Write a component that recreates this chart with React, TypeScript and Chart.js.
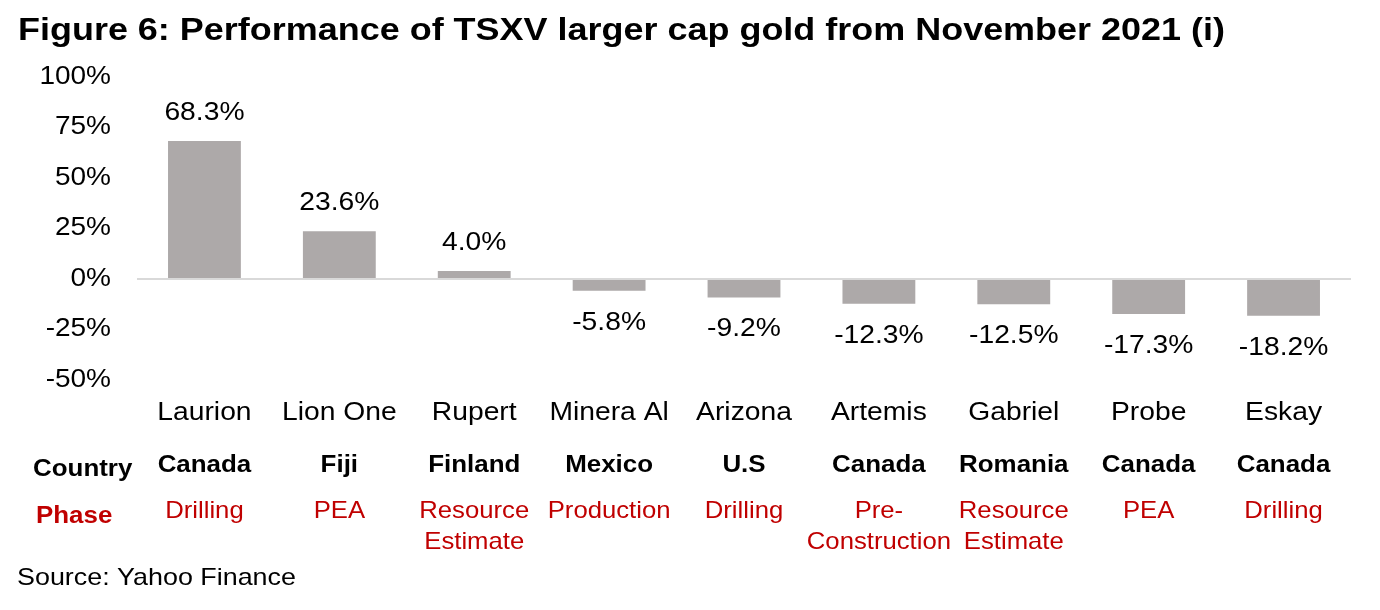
import React, { useEffect, useRef } from "react";
import { Chart, registerables } from "chart.js";

Chart.register(...registerables);

const TITLE = "Figure 6: Performance of TSXV larger cap gold from November 2021 (i)";
const SOURCE = "Source: Yahoo Finance";
const companies = ["Laurion", "Lion One", "Rupert", "Minera Al", "Arizona", "Artemis", "Gabriel", "Probe", "Eskay"];
const performance = [68.3, 23.6, 4.0, -5.8, -9.2, -12.3, -12.5, -17.3, -18.2];
const countries = ["Canada", "Fiji", "Finland", "Mexico", "U.S", "Canada", "Romania", "Canada", "Canada"];
const phases = [["Drilling"], ["PEA"], ["Resource", "Estimate"], ["Production"], ["Drilling"], ["Pre-", "Construction"], ["Resource", "Estimate"], ["PEA"], ["Drilling"]];
const yTicks = [-50, -25, 0, 25, 50, 75, 100];

const FONT = "'Liberation Sans', Arial, sans-serif";
const RED = "#C00000";

function drawText(ctx: CanvasRenderingContext2D, text: string, x: number, y: number, font: string, color: string, align: CanvasTextAlign, sx = 1.06) {
  ctx.save();
  ctx.font = font;
  ctx.fillStyle = color;
  ctx.textAlign = align;
  ctx.textBaseline = "middle";
  ctx.translate(x, y);
  ctx.scale(sx, 1);
  ctx.fillText(text, 0, 0);
  ctx.restore();
}

const overlay = {
  id: "overlay",
  afterDraw(chart: any) {
    const ctx: CanvasRenderingContext2D = chart.ctx;
    const xs = chart.scales.x;
    const ys = chart.scales.y;
    drawText(ctx, TITLE, 18, 31, `bold 31px ${FONT}`, "#000", "left", 1.16);
    yTicks.forEach((t) => {
      drawText(ctx, t + "%", 111, ys.getPixelForValue(t), `25px ${FONT}`, "#000", "right", 1.12);
    });
    companies.forEach((name, i) => {
      const cx = xs.getPixelForValue(i);
      const v = performance[i];
      const py = ys.getPixelForValue(v);
      const label = v.toFixed(1) + "%";
      const ly = v >= 0 ? py - 28 : py + 32;
      drawText(ctx, label, cx, ly, `25px ${FONT}`, "#000", "center", 1.13);
      drawText(ctx, name, cx, 413, `25px ${FONT}`, "#000", "center", 1.13);
      drawText(ctx, countries[i], cx, 465, `bold 24px ${FONT}`, "#000", "center", 1.08);
      phases[i].forEach((p, j) => {
        drawText(ctx, p, cx, 511 + j * 31, `24px ${FONT}`, RED, "center", 1.07);
      });
    });
    drawText(ctx, "Country", 33, 469, `bold 24px ${FONT}`, "#000", "left", 1.08);
    drawText(ctx, "Phase", 36, 516, `bold 24px ${FONT}`, RED, "left", 1.08);
    drawText(ctx, SOURCE, 17, 578, `24px ${FONT}`, "#000", "left", 1.12);
  },
};

export default function App() {
  const ref = useRef<HTMLCanvasElement>(null);
  useEffect(() => {
    if (!ref.current) return;
    const chart = new Chart(ref.current, {
      type: "bar",
      data: {
        labels: companies,
        datasets: [
          {
            data: performance,
            backgroundColor: "#ADA9A9",
            categoryPercentage: 1,
            barPercentage: 0.54,
          },
        ],
      },
      options: {
        animation: false,
        responsive: false,
        devicePixelRatio: 1,
        layout: { padding: { left: 0, top: 77, right: 29, bottom: 230 } },
        plugins: { legend: { display: false }, tooltip: { enabled: false }, title: { display: false } },
        scales: {
          x: { display: false, offset: true },
          y: {
            min: -50,
            max: 100,
            afterBuildTicks: (s: any) => {
              s.ticks = yTicks.map((v) => ({ value: v }));
            },
            afterFit: (s: any) => {
              s.width = 137;
            },
            border: { display: false },
            grid: {
              drawTicks: false,
              lineWidth: 2,
              color: (c: any) => (c.tick && c.tick.value === 0 ? "#D9D9D9" : "rgba(0,0,0,0)"),
            },
            ticks: { display: false },
          },
        },
      },
      plugins: [overlay],
    });
    return () => chart.destroy();
  }, []);
  return (
    <div style={{ position: "absolute", left: 0, top: 0, width: 1380, height: 610, background: "#fff" }}>
      <canvas ref={ref} width={1380} height={610} style={{ width: 1380, height: 610 }} />
    </div>
  );
}
